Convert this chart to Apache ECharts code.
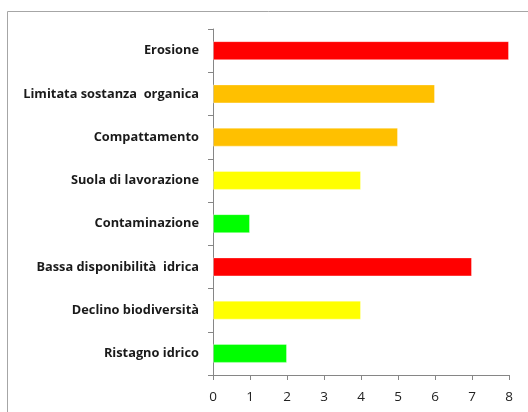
<!DOCTYPE html>
<html><head><meta charset="utf-8">
<script src="https://cdn.jsdelivr.net/npm/echarts@6/dist/echarts.min.js"></script>
<style>html,body{margin:0;padding:0;background:#fff}#c{width:528px;height:412px}</style>
</head><body><div id="c"></div>
<script>
const categories = ["Erosione","Limitata sostanza  organica","Compattamento","Suola di lavorazione","Contaminazione","Bassa disponibilità  idrica","Declino biodiversità","Ristagno idrico"];
const values = [8,6,5,4,1,7,4,2];
const barColors = ["#FF0000","#FFC000","#FFC000","#FFFF00","#00FF00","#FF0000","#FFFF00","#00FF00"];
const xTicks = [0,1,2,3,4,5,6,7,8];

const chart = echarts.init(document.getElementById('c'), null, {renderer:'canvas'});
chart.setOption({
  animation:false,
  backgroundColor:'#fff',
  graphic:[{type:'rect',shape:{x:7.5,y:11.5,width:600,height:500},style:{fill:'none',stroke:'#a6a6a6',lineWidth:1},silent:true,z:-1}],
  grid:{left:213,top:29,right:19,bottom:37,containLabel:false},
  xAxis:{type:'value',min:xTicks[0],max:xTicks[xTicks.length-1],interval:1,
    axisLine:{show:true,lineStyle:{color:'#868686'}},
    axisTick:{show:true,length:5,lineStyle:{color:'#868686'}},
    splitLine:{show:false},
    axisLabel:{color:'#222',fontFamily:'"Open Sans", sans-serif',fontSize:13.5,margin:15}},
  yAxis:{type:'category',data:categories,inverse:true,
    axisLine:{show:true,lineStyle:{color:'#868686'}},
    axisTick:{show:true,length:5,lineStyle:{color:'#868686'}},
    axisLabel:{color:'#1a1a1a',fontFamily:'"Open Sans", sans-serif',fontWeight:'bold',fontSize:12.8,margin:14}},
  series:[{type:'bar',barWidth:19,
    data:values.map((v,i)=>({value:v,itemStyle:{color:barColors[i]}})),
    itemStyle:{borderColor:'rgba(255,255,255,0.35)',borderWidth:1}}]
});
</script></body></html>
